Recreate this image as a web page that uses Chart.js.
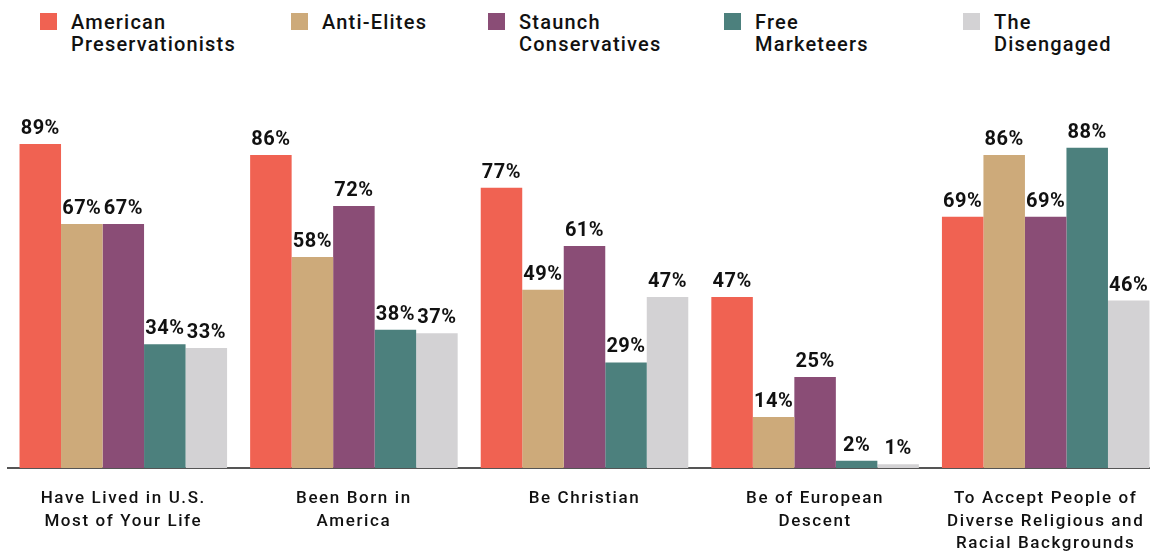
<!DOCTYPE html>
<html lang="en">
<head>
    <meta charset="UTF-8">
    <title>Identity Traits by Group</title>
    <script src="https://cdn.jsdelivr.net/npm/chart.js@4.4.0/dist/chart.umd.min.js"></script>
    <style>
        body {
            margin: 0;
            background-color: #fff;
            overflow: hidden;
            font-family: 'Roboto', sans-serif;
        }
        .wrap {
            position: relative;
            width: 1162px;
            height: 552px;
        }
        .legend-item {
            position: absolute;
            top: 13px;
            display: flex;
            align-items: flex-start;
        }
        .legend-box {
            width: 17px;
            height: 17px;
            margin-top: 0;
        }
        .legend-text {
            position: absolute;
            top: 0;
            font-size: 20px;
            font-weight: 500;
            line-height: 21.5px;
            letter-spacing: 1.2px;
            color: #111;
            white-space: nowrap;
        }
        #chart {
            position: absolute;
            left: 0;
            top: 0;
        }
    </style>
</head>
<body>
<div class="wrap">
    <div id="legend"></div>
    <canvas id="chart" width="1162" height="552"></canvas>
</div>

<script>
    // categories (one array of lines per group label)
    const categories = [
        ['Have Lived in U.S.', 'Most of Your Life'],
        ['Been Born in', 'America'],
        ['Be Christian'],
        ['Be of European', 'Descent'],
        ['To Accept People of', 'Diverse Religious and', 'Racial Backgrounds']
    ];

    const seriesNames = [
        ['American', 'Preservationists'],
        ['Anti-Elites'],
        ['Staunch', 'Conservatives'],
        ['Free', 'Marketeers'],
        ['The', 'Disengaged']
    ];

    const americanPreservationists = [89, 86, 77, 47, 69];
    const antiElites = [67, 58, 49, 14, 86];
    const staunchConservatives = [67, 72, 61, 25, 69];
    const freeMarketeers = [34, 38, 29, 2, 88];
    const theDisengaged = [33, 37, 47, 1, 46];

    const seriesValues = [americanPreservationists, antiElites, staunchConservatives, freeMarketeers, theDisengaged];
    const seriesColors = ['#F06252', '#CDAA7A', '#8A4D76', '#4C807D', '#D3D2D4'];

    // legend layout: left edge of each swatch
    const legendLeft = [40, 291, 488, 724, 963];

    const legendEl = document.getElementById('legend');
    seriesNames.forEach((lines, i) => {
        const item = document.createElement('div');
        item.className = 'legend-item';
        item.style.left = legendLeft[i] + 'px';
        item.innerHTML = `<div class="legend-box" style="background:${seriesColors[i]}"></div>` +
            `<div class="legend-text" style="left:31px;top:-1px">${lines.join('<br>')}</div>`;
        legendEl.appendChild(item);
    });

    // value labels above each bar
    const valueLabels = {
        id: 'valueLabels',
        afterDatasetsDraw(chart) {
            const ctx = chart.ctx;
            ctx.save();
            ctx.letterSpacing = '0.5px';
            ctx.font = 'bold 20px Roboto';
            ctx.fillStyle = '#111';
            ctx.textAlign = 'center';
            ctx.textBaseline = 'alphabetic';
            chart.data.datasets.forEach((ds, di) => {
                chart.getDatasetMeta(di).data.forEach((bar, i) => {
                    ctx.fillText(ds.data[i] + '%', bar.x, bar.y - 10);
                });
            });
            ctx.restore();
        }
    };

    const tickSpacing = {
        id: 'tickSpacing',
        beforeDraw(chart) {
            chart.ctx.letterSpacing = '1.6px';
        }
    };

    const chart = new Chart(document.getElementById('chart'), {
        type: 'bar',
        data: {
            labels: categories,
            datasets: seriesValues.map((vals, i) => ({
                label: seriesNames[i].join(' '),
                data: vals,
                backgroundColor: seriesColors[i],
                borderWidth: 0,
                categoryPercentage: 0.9,
                barPercentage: 1.0
            }))
        },
        options: {
            responsive: false,
            animation: false,
            layout: {
                padding: { top: 104, left: 8, right: 1, bottom: 0 }
            },
            plugins: {
                legend: { display: false },
                tooltip: { enabled: false }
            },
            scales: {
                x: {
                    grid: { display: false, drawTicks: false },
                    border: { display: true, color: '#555', width: 2 },
                    ticks: {
                        color: '#111',
                        padding: 20,
                        autoSkip: false,
                        maxRotation: 0,
                        font: { family: 'Roboto', size: 17, weight: '500', lineHeight: 1.31 }
                    },
                    afterFit(scale) {
                        scale.height = 84;
                    }
                },
                y: {
                    display: false,
                    min: 0,
                    max: 100
                }
            }
        },
        plugins: [tickSpacing, valueLabels]
    });
</script>
</body>
</html>
